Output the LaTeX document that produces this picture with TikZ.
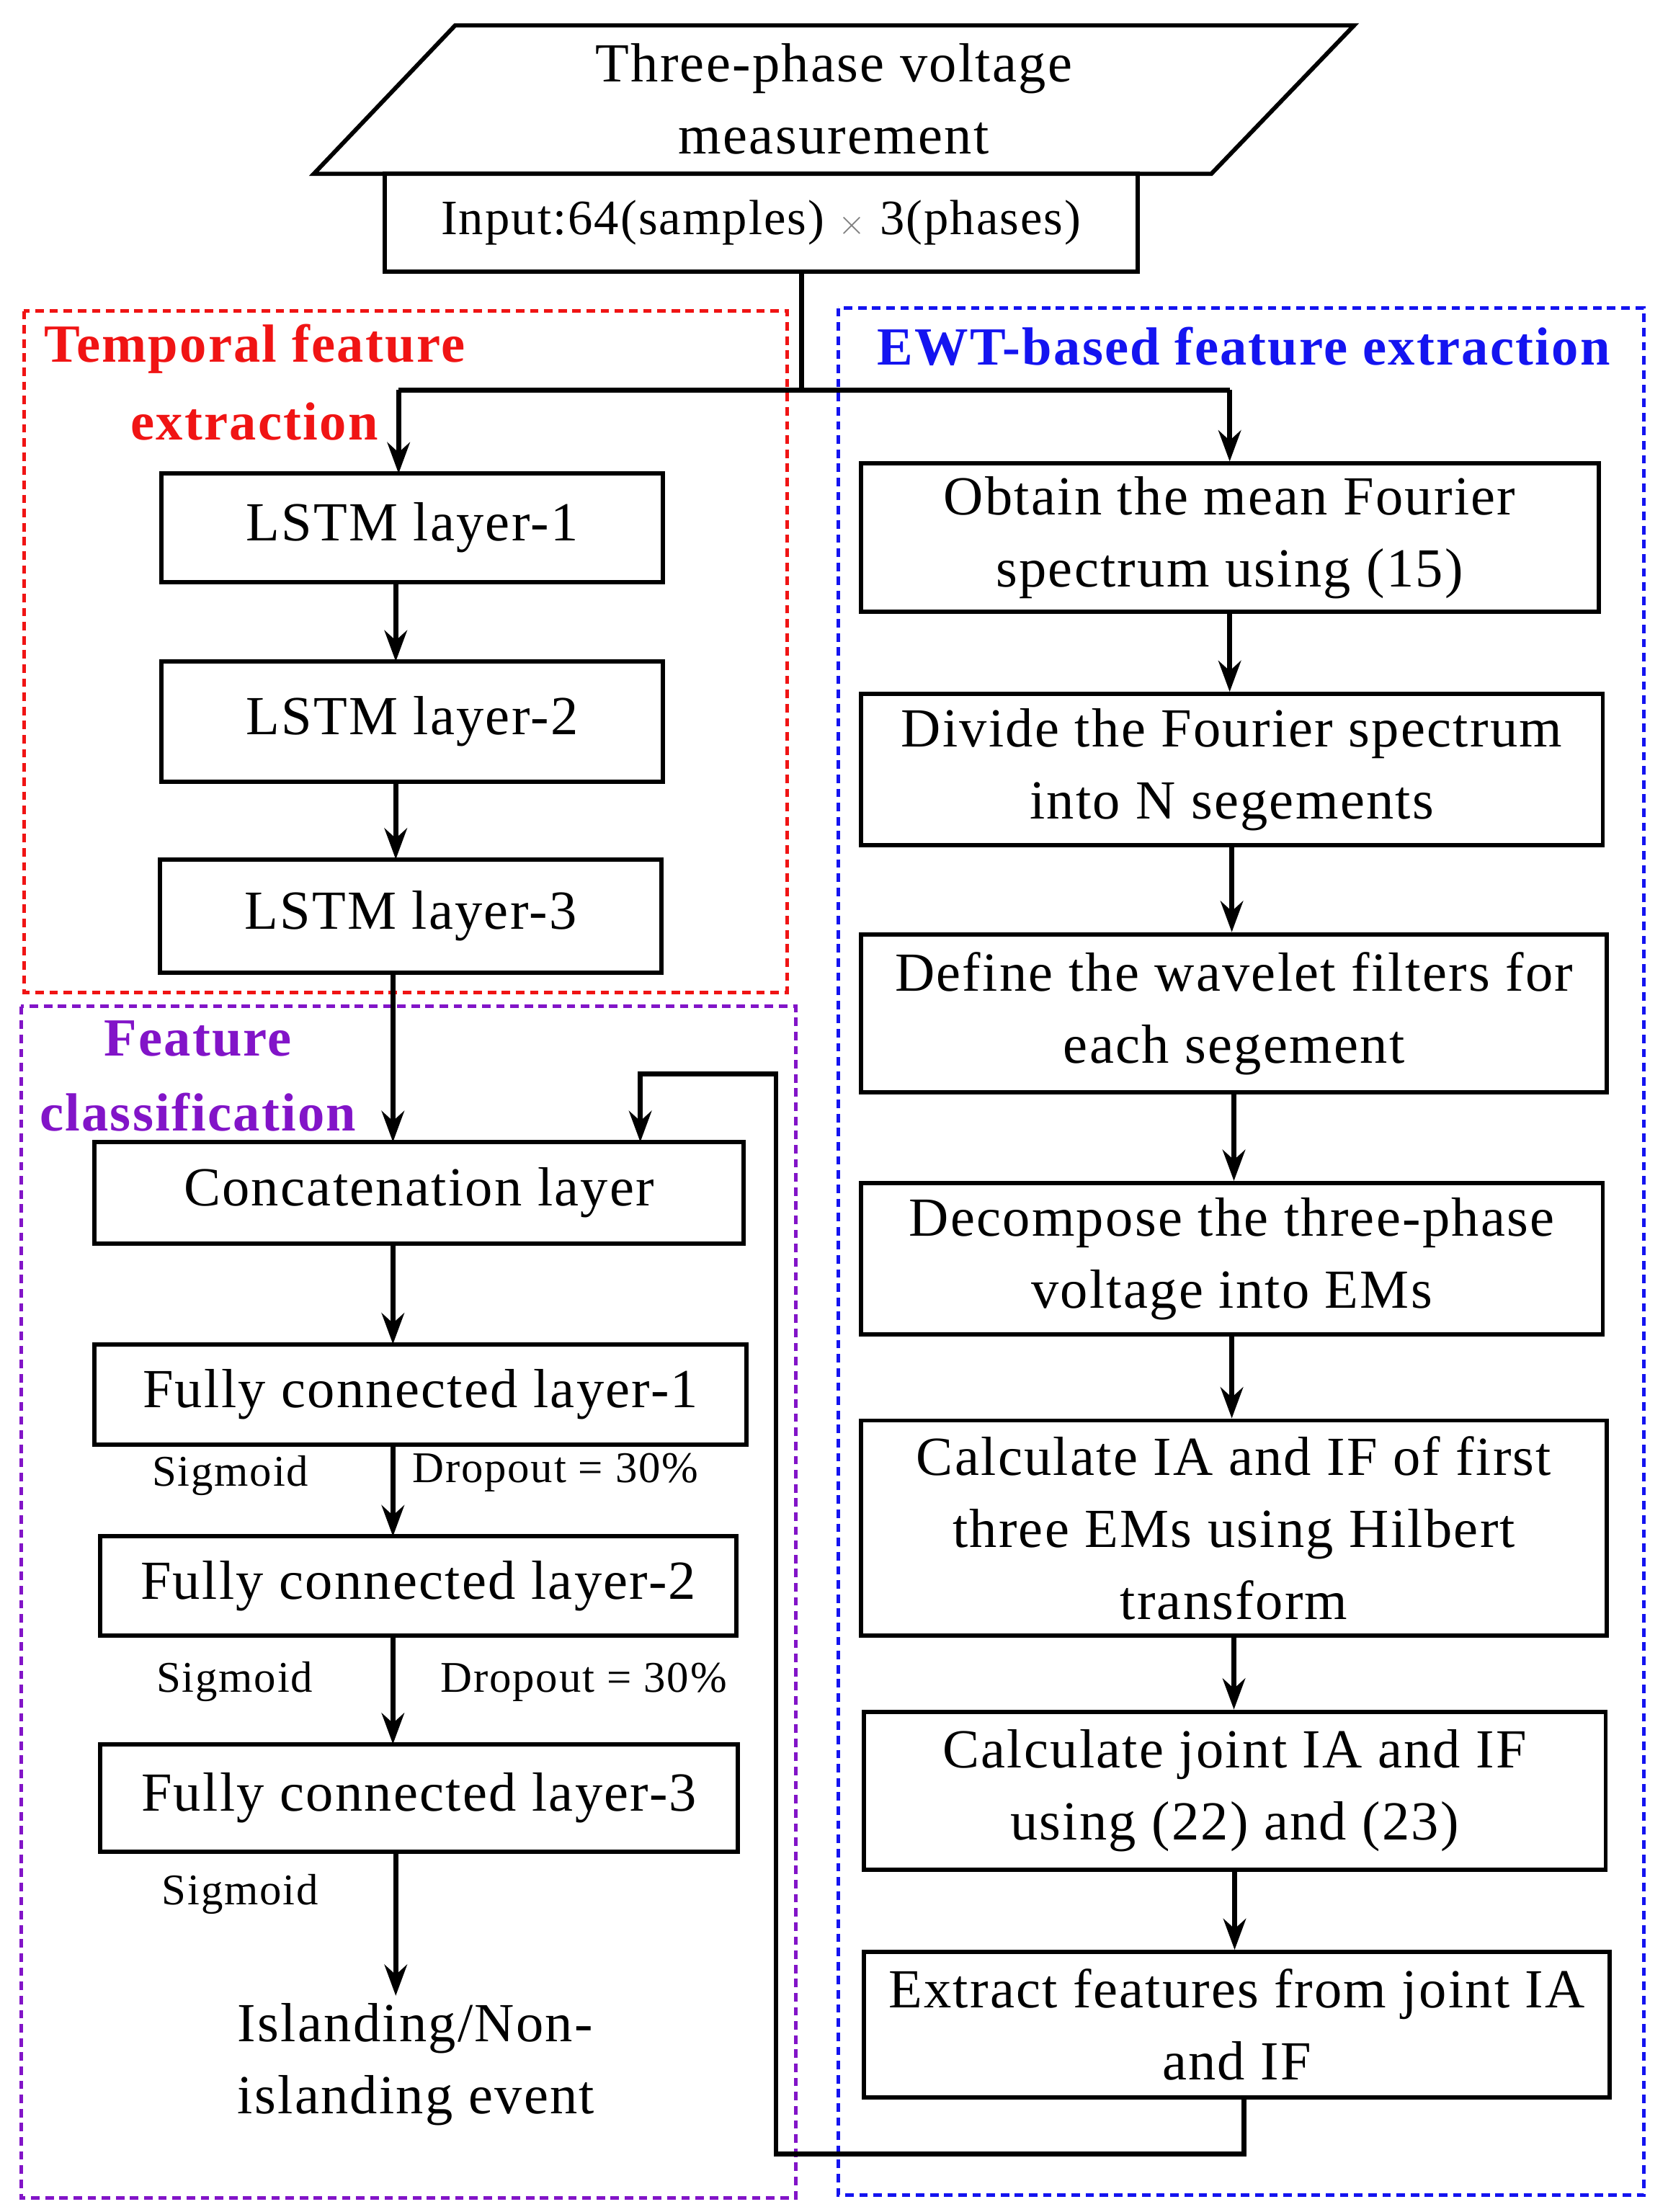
\documentclass[tikz,border=0pt]{standalone}
\usepackage{fontspec}
\setmainfont{Liberation Serif}[LetterSpace=3]
\usetikzlibrary{arrows.meta}
\definecolor{myred}{RGB}{240,20,20}
\definecolor{myblue}{RGB}{20,20,240}
\definecolor{mypurple}{RGB}{130,20,200}
\begin{document}
\begin{tikzpicture}[x=1pt,y=-1pt,
  box/.style={draw,line width=3pt,inner sep=0pt,align=center,font=\fontsize{39}{51}\selectfont},
  lbl/.style={inner sep=0pt,font=\fontsize{31}{38}\selectfont},
  arr/.style={line width=3.5pt,-{Stealth[length=22pt,width=16pt]}},
  ln/.style={line width=3.5pt},
  grp/.style={dashed,line width=2.5pt,dash pattern=on 6pt off 4pt},
  ttl/.style={inner sep=0pt,font=\fontsize{38}{50}\selectfont\bfseries}]
\useasboundingbox (0,0) rectangle (1180,1565);
% groups
\draw[grp,myred] (17,220) rectangle (557,702);
\draw[grp,myblue] (593,218) rectangle (1163,1553);
\draw[grp,mypurple] (15,712) rectangle (563,1555);
\node[ttl,myred] (t1) at (180,247) {Temporal feature};
\node[ttl,myred] (t2) at (180,298) {extraction};
\node[ttl,myblue] (t3) at (880,245) {EWT-based feature extraction};
\node[ttl,mypurple] (t4) at (140,735) {Feature};
\node[ttl,mypurple] (t5) at (140,787) {classification};
% top
\draw[line width=3pt] (322,18) -- (958,18) -- (857,123) -- (222,123) -- cycle;
\node[inner sep=0pt,align=center,font=\fontsize{39}{51}\selectfont] (meas) at (590,70) {Three-phase voltage\\measurement};
\node[box,minimum width=533pt,minimum height=69pt,font=\fontsize{35}{40}\selectfont] (in) at (538.5,157.5) {Input:64(samples) {\color{gray}$\times$} 3(phases)};
% left
\node[box,minimum width=355pt,minimum height=77pt] (l1) at (291.5,373.5) {LSTM layer-1};
\node[box,minimum width=355pt,minimum height=85pt] (l2) at (291.5,510.5) {LSTM layer-2};
\node[box,minimum width=355pt,minimum height=80pt] (l3) at (290.5,648) {LSTM layer-3};
\node[box,minimum width=459pt,minimum height=72pt] (cc) at (296.5,844) {Concatenation layer};
\node[box,minimum width=461pt,minimum height=71pt] (f1) at (297.5,986.5) {Fully connected layer-1};
\node[box,minimum width=450pt,minimum height=70pt] (f2) at (296,1122) {Fully connected layer-2};
\node[box,minimum width=451pt,minimum height=76pt] (f3) at (296.5,1272) {Fully connected layer-3};
\node[inner sep=0pt,align=left,font=\fontsize{39}{51}\selectfont,anchor=north west] (out) at (168,1417) {Islanding/Non-\\islanding event};
\node[lbl] (s1) at (163,1044) {Sigmoid};
\node[lbl] (d1) at (393,1042) {Dropout = 30\%};
\node[lbl] (s2) at (166,1190) {Sigmoid};
\node[lbl] (d2) at (413,1190) {Dropout = 30\%};
\node[lbl] (s3) at (170,1340) {Sigmoid};
% right
\node[box,minimum width=522pt,minimum height=105pt] (b1) at (870,380.5) {Obtain the mean Fourier\\spectrum using (15)};
\node[box,minimum width=525pt,minimum height=107pt] (b2) at (871.5,544.5) {Divide the Fourier spectrum\\into N segements};
\node[box,minimum width=528pt,minimum height=112pt] (b3) at (873,717) {Define the wavelet filters for\\each segement};
\node[box,minimum width=525pt,minimum height=107pt] (b4) at (871.5,890.5) {Decompose the three-phase\\voltage into EMs};
\node[box,minimum width=528pt,minimum height=152pt] (b5) at (873,1081) {Calculate IA and IF of first\\three EMs using Hilbert\\transform};
\node[box,minimum width=525pt,minimum height=112pt] (b6) at (873.5,1267) {Calculate joint IA and IF\\using (22) and (23)};
\node[box,minimum width=528pt,minimum height=103pt] (b7) at (875,1432.5) {Extract features from joint IA\\and IF};
% connectors
\coordinate (sp) at (567,276);
\coordinate (spl) at (282,276);
\coordinate (spr) at (870,276);
\draw[ln] (567,192) -- (sp);
\draw[ln] (spl) -- (spr);
\draw[arr] (spl) -- (282,335);
\draw[arr] (spr) -- (b1.north);
\draw[arr] (280,412) -- (280,468);
\draw[arr] (280,553) -- (280,608);
\draw[arr] (278,688) -- (278,808);
\draw[arr] (278,880) -- (278,951);
\draw[arr] (278,1022) -- (278,1087);
\draw[arr] (278,1157) -- (278,1234);
\draw[arr] (280,1310) -- (280,1412);
\draw[arr] (b1.south) -- (b1.south |- b2.north);
\draw[arr] (b2.south) -- (b2.south |- b3.north);
\draw[arr] (b3.south) -- (b3.south |- b4.north);
\draw[arr] (b4.south) -- (b4.south |- b5.north);
\draw[arr] (b5.south) -- (b5.south |- b6.north);
\draw[arr] (b6.south) -- (b6.south |- b7.north);
\draw[arr] (880,1484) -- (880,1524) -- (549,1524) -- (549,760) -- (453,760) -- (453,808);
\end{tikzpicture}
\end{document}
